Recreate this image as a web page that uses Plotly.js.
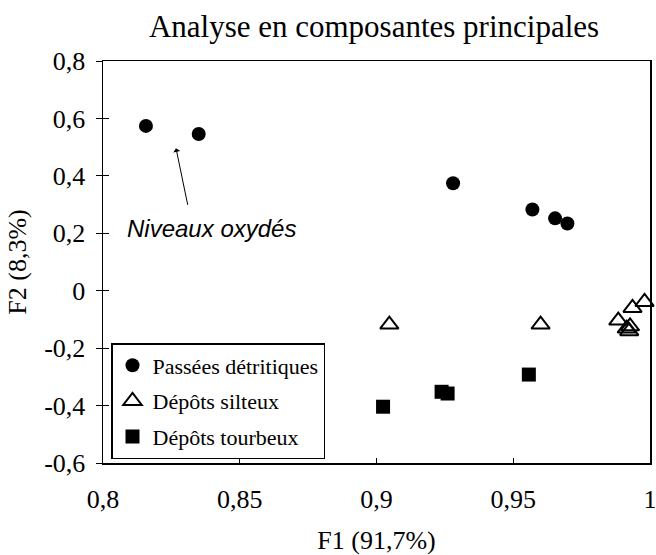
<!DOCTYPE html>
<html>
<head>
<meta charset="utf-8">
<script src="https://cdn.plot.ly/plotly-3.0.1.min.js"></script>
<style>html,body{margin:0;padding:0;background:#fff;}#chart{width:656px;height:555px;}</style>
</head>
<body>
<div id="chart"></div>
<script>
const seriesNames = ["Passées détritiques", "Dépôts silteux", "Dépôts tourbeux"];
const detritX = [0.8157, 0.835, 0.928, 0.957, 0.9653, 0.9698];
const detritY = [0.574, 0.546, 0.374, 0.283, 0.252, 0.234];
const siltX = [0.9047, 0.960, 0.9884, 0.9936, 0.998, 0.9927, 0.9924, 0.9915];
const siltY = [-0.118, -0.118, -0.104, -0.060, -0.039, -0.124, -0.141, -0.132];
const tourbX = [0.9024, 0.9238, 0.926, 0.9557];
const tourbY = [-0.404, -0.352, -0.358, -0.292];
const xTickVals = [0.8, 0.85, 0.9, 0.95, 1];
const xTickText = ["0,8", "0,85", "0,9", "0,95", "1"];
const yTickVals = [0.8, 0.6, 0.4, 0.2, 0, -0.2, -0.4, -0.6];
const yTickText = ["0,8", "0,6", "0,4", "0,2", "0", "-0,2", "-0,4", "-0,6"];

const serif = "Liberation Serif";
const traces = [
  {x: detritX, y: detritY, name: seriesNames[0], type: "scatter", mode: "markers", legendgroup: "a", cliponaxis: false,
   marker: {symbol: "circle", size: 14, color: "#000"}},
  {x: siltX, y: siltY, name: seriesNames[1], type: "scatter", mode: "markers", legendgroup: "b", cliponaxis: false,
   marker: {symbol: "triangle-up-open", size: 16, color: "#000", line: {width: 2, color: "#000"}}},
  {x: tourbX, y: tourbY, name: seriesNames[2], type: "scatter", mode: "markers", legendgroup: "c", cliponaxis: false,
   marker: {symbol: "square", size: 14, color: "#000"}},
  {x: [], y: [], yaxis: "y2", showlegend: false, hoverinfo: "skip"}
];

const layout = {
  width: 656, height: 555,
  margin: {l: 103, r: 6, t: 61, b: 92},
  paper_bgcolor: "#fff", plot_bgcolor: "#fff",
  font: {family: serif, color: "#000", size: 24},
  title: {text: "Analyse en composantes principales", font: {family: serif, size: 31, color: "#000"},
          x: 374/656, xanchor: "center", xref: "container", y: 1 - 26/555, yanchor: "middle", yref: "container"},
  xaxis: {range: [0.8, 1], tickvals: xTickVals, ticktext: xTickText, showgrid: false, zeroline: false,
          showline: true, linecolor: "#000", linewidth: 1.5, mirror: true,
          ticks: "inside", ticklen: 5, tickcolor: "#000", ticklabelstandoff: 12, ticklabeloverflow: "allow",
          tickfont: {family: serif, size: 26, color: "#000"},
          title: {text: "F1 (91,7%)", font: {family: serif, size: 26, color: "#000"}, standoff: 18}},
  yaxis: {range: [-0.6, 0.8], tickvals: yTickVals, ticktext: yTickText, showgrid: false, zeroline: false,
          showline: true, linecolor: "#000", linewidth: 1.5, mirror: true,
          ticks: "outside", ticklen: 6, tickcolor: "#000", ticklabelstandoff: 5, ticklabeloverflow: "allow",
          tickfont: {family: serif, size: 26, color: "#000"},
          title: {text: "F2 (8,3%)", font: {family: serif, size: 26, color: "#000"}, standoff: 10}},
  yaxis2: {range: [-0.6, 0.8], overlaying: "y", tickvals: yTickVals, showticklabels: false, showgrid: false,
           zeroline: false, ticks: "inside", ticklen: 6, tickcolor: "#000", showline: false},
  showlegend: true,
  legend: {x: (111-103)/547, y: (463-343)/402, xanchor: "left", yanchor: "top",
           bordercolor: "#000", borderwidth: 1.5, bgcolor: "#fff",
           font: {family: serif, size: 22, color: "#000"},
           traceorder: "grouped", tracegroupgap: 4, itemwidth: 30},
  annotations: [
    {x: 0.8267, y: 0.496, xref: "x", yref: "y", text: "", showarrow: true, ax: 12, ay: 58,
     arrowhead: 1, arrowsize: 1.2, arrowwidth: 1, arrowcolor: "#000"},
    {x: 0, y: 0, xref: "paper", yref: "paper", text: "<i>Niveaux oxydés</i>", showarrow: false,
     font: {family: "Liberation Sans", size: 24, color: "#000"}, xanchor: "left", yanchor: "middle"}
  ]
};
layout.annotations[1].x = (125 - 103) / 547;
layout.annotations[1].y = (463 - 228) / 402;

Plotly.newPlot("chart", traces, layout, {staticPlot: true, displayModeBar: false});
</script>
</body>
</html>
